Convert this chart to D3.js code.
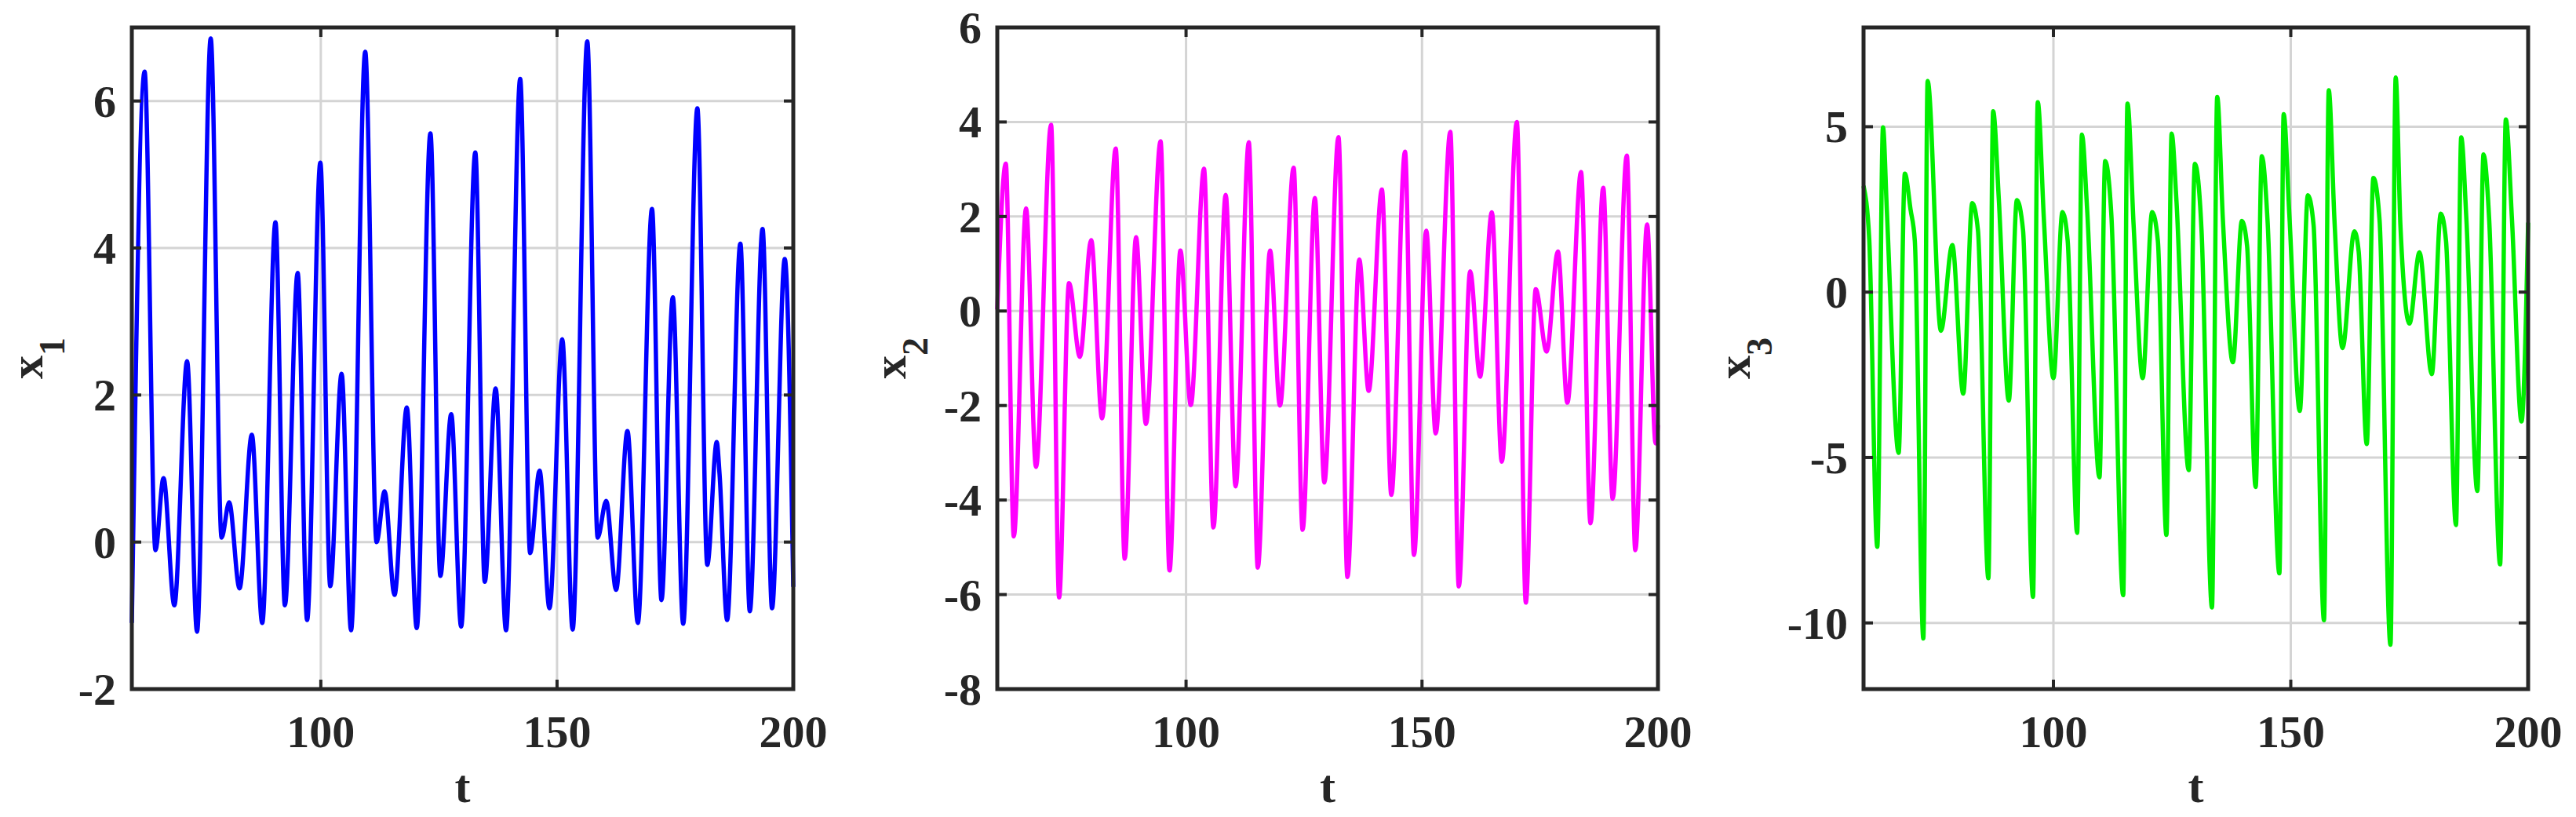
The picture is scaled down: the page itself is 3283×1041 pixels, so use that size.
<!DOCTYPE html>
<html>
  <head>
    <title>x1 x2 x3 time series</title>
    <script src="https://d3js.org/d3.v7.min.js"></script>
    <style>
      body { margin: 0; background: #fff; }
      text { font-family: "Times New Roman", "Liberation Serif", Times, serif; font-weight: 700; fill: #262626; }
    </style>
  </head>
  <body>
    <svg width="3283" height="1041"></svg>
    <script>
      // extrema: [t, value]
      const x1Data = [
        [60,-1.1],[62.7,6.4],[65.0,-0.11],[66.7,0.87],[69.0,-0.86],[71.7,2.46],[73.8,-1.22],
        [76.7,6.85],[79.0,0.06],[80.6,0.54],[82.8,-0.63],[85.4,1.46],[87.6,-1.1],[90.4,4.35],
        [92.4,-0.86],[95.1,3.66],[97.1,-1.06],[99.9,5.16],[102.0,-0.6],[104.4,2.29],[106.4,-1.2],
        [109.4,6.67],[111.8,0],[113.5,0.69],[115.6,-0.72],[118.2,1.83],[120.3,-1.17],[123.2,5.56],
        [125.3,-0.46],[127.6,1.74],[129.7,-1.15],[132.7,5.3],[134.7,-0.54],[137.0,2.09],[139.2,-1.2],
        [142.2,6.3],[144.3,-0.15],[146.3,0.97],[148.4,-0.9],[151.1,2.76],[153.3,-1.19],[156.4,6.81],
        [158.6,0.06],[160.4,0.56],[162.5,-0.65],[164.9,1.51],[167.1,-1.1],[170.1,4.53],[172.1,-0.79],
        [174.5,3.33],[176.7,-1.11],[179.7,5.9],[181.8,-0.31],[183.8,1.36],[184.4,0.92],[186.0,-1.06],
        [188.8,4.06],[190.8,-0.94],[193.5,4.26],[195.5,-0.9],[198.2,3.85],[200,-0.61]
      ];
      const x2Data = [
        [60,0.03],[61.8,3.12],[63.5,-4.77],[66.1,2.17],[68.2,-3.3],[71.4,3.94],[73.1,-6.06],
        [75.2,0.59],[77.5,-0.97],[79.9,1.5],[82.2,-2.27],[85.1,3.44],[87.0,-5.24],[89.4,1.56],
        [91.5,-2.39],[94.6,3.59],[96.5,-5.49],[98.8,1.28],[101.0,-1.99],[103.8,3.01],[105.8,-4.58],
        [108.4,2.46],[110.5,-3.71],[113.3,3.57],[115.2,-5.43],[117.8,1.28],[119.9,-2.0],[122.8,3.03],
        [124.7,-4.63],[127.3,2.39],[129.3,-3.63],[132.3,3.68],[134.2,-5.63],[136.7,1.09],[138.7,-1.69],
        [141.5,2.57],[143.5,-3.89],[146.4,3.37],[148.3,-5.16],[150.9,1.7],[152.9,-2.59],[156.0,3.79],
        [157.8,-5.83],[160.2,0.84],[162.3,-1.39],[164.8,2.09],[166.9,-3.19],[170.1,4.0],[172.0,-6.17],
        [174.1,0.46],[176.4,-0.86],[178.8,1.26],[180.8,-1.94],[183.7,2.94],[185.7,-4.49],[188.4,2.61],
        [190.4,-3.97],[193.4,3.29],[195.2,-5.06],[197.7,1.83],[199.5,-2.8],[200,-2.41]
      ];
      const x3Data = [
        [60,3.21],[61.2,1.6],[62.9,-7.7],[64.1,4.98],[64.9,2.5],[67.4,-4.86],[68.7,3.58],[69.9,2.5],
        [70.8,1.55],[72.6,-10.47],[73.5,6.38],[76.3,-1.17],[78.7,1.42],[81.0,-3.07],[82.9,2.69],
        [84.1,1.87],[86.3,-8.65],[87.3,5.47],[88.5,2.8],[90.6,-3.28],[92.3,2.78],[93.6,1.87],
        [95.7,-9.21],[96.7,5.74],[98.0,2.18],[100.0,-2.6],[101.9,2.42],[103.0,1.55],[105.0,-7.28],
        [106.0,4.76],[107.1,2.5],[109.7,-5.6],[110.9,3.96],[112.2,2.34],[114.7,-9.16],[115.6,5.7],
        [116.9,2.0],[118.8,-2.6],[120.8,2.42],[122.0,1.55],[123.8,-7.34],[124.9,4.79],[125.9,2.8],
        [128.5,-5.38],[129.8,3.88],[131.2,1.87],[133.4,-9.53],[134.5,5.9],[135.7,2.18],[137.8,-2.12],
        [139.7,2.15],[140.8,1.39],[142.6,-5.89],[143.9,4.11],[145.1,2.18],[147.6,-8.5],[148.5,5.38],
        [149.7,2.34],[151.9,-3.59],[153.6,2.93],[154.8,2.03],[157.0,-9.92],[158.0,6.1],[159.2,2.18],
        [160.9,-1.69],[163.4,1.84],[164.3,1.23],[166.0,-4.59],[167.4,3.45],[168.7,2.18],[171.0,-10.66],
        [172.1,6.49],[173.1,2.0],[175.0,-0.95],[177.1,1.2],[179.7,-2.48],[181.6,2.37],[182.7,1.55],
        [184.8,-7.04],[185.9,4.68],[187.0,2.18],[189.3,-6.01],[190.6,4.16],[191.8,2.18],[194.1,-8.23],
        [195.3,5.22],[196.6,2.18],[198.6,-3.91],[200,2.1]
      ];
      const xTicks = [100, 150, 200];
      const x1Ticks = [-2, 0, 2, 4, 6];
      const x2Ticks = [-8, -6, -4, -2, 0, 2, 4, 6];
      const x3Ticks = [-10, -5, 0, 5];

      function panel(svg, props) {
        const { data, left, right, top, bottom, yDomain, yTicks, color, label, labelX } = props;
        const x = d3.scaleLinear().domain([60, 200]).range([left, right]);
        const y = d3.scaleLinear().domain(yDomain).range([bottom, top]);
        const g = svg.append("g");
        const tickLen = 12;

        // grid
        g.selectAll(".gx").data(xTicks).join("line")
          .attr("x1", d => x(d)).attr("x2", d => x(d))
          .attr("y1", top).attr("y2", bottom)
          .attr("stroke", "#d4d4d4").attr("stroke-width", 3);
        g.selectAll(".gy").data(yTicks).join("line")
          .attr("x1", left).attr("x2", right)
          .attr("y1", d => y(d)).attr("y2", d => y(d))
          .attr("stroke", "#d4d4d4").attr("stroke-width", 3);

        // line
        g.append("path").datum(data)
          .attr("fill", "none").attr("stroke", color).attr("stroke-width", 5.5)
          .attr("stroke-linejoin", "round")
          .attr("d", d3.line().x(d => x(d[0])).y(d => y(d[1])).curve(d3.curveMonotoneX));

        // ticks inside on all sides
        const tk = g.append("g").attr("stroke", "#262626").attr("stroke-width", 4);
        xTicks.forEach(v => {
          tk.append("line").attr("x1", x(v)).attr("x2", x(v)).attr("y1", bottom).attr("y2", bottom - tickLen);
          tk.append("line").attr("x1", x(v)).attr("x2", x(v)).attr("y1", top).attr("y2", top + tickLen);
        });
        yTicks.forEach(v => {
          tk.append("line").attr("x1", left).attr("x2", left + tickLen).attr("y1", y(v)).attr("y2", y(v));
          tk.append("line").attr("x1", right).attr("x2", right - tickLen).attr("y1", y(v)).attr("y2", y(v));
        });

        // frame
        g.append("rect").attr("x", left).attr("y", top)
          .attr("width", right - left).attr("height", bottom - top)
          .attr("fill", "none").attr("stroke", "#262626").attr("stroke-width", 5);

        // tick labels
        g.selectAll(".tx").data(xTicks).join("text")
          .attr("x", d => x(d)).attr("y", bottom + 74)
          .attr("text-anchor", "middle").attr("font-size", 58).text(d => d);
        g.selectAll(".ty").data(yTicks).join("text")
          .attr("x", left - 20).attr("y", d => y(d) + 20)
          .attr("text-anchor", "end").attr("font-size", 58).text(d => d);

        // axis labels
        g.append("text").attr("x", (left + right) / 2).attr("y", 1022)
          .attr("text-anchor", "middle").attr("font-size", 60).text("t");
        const yl = g.append("text")
          .attr("transform", `translate(${labelX},${(top + bottom) / 2}) rotate(-90)`)
          .attr("text-anchor", "middle").attr("font-size", 60);
        yl.append("tspan").text("x");
        yl.append("tspan").attr("dy", 28).attr("font-size", 46).text(label);
      }

      const svg = d3.select("svg");
      const plotTop = 35, plotBottom = 878;
      panel(svg, { data: x1Data, left: 168, right: 1011, top: plotTop, bottom: plotBottom, yDomain: [-2, 7],
        yTicks: x1Ticks, color: "#0000ff", label: "1", labelX: 54 });
      panel(svg, { data: x2Data, left: 1271, right: 2113, top: plotTop, bottom: plotBottom, yDomain: [-8, 6],
        yTicks: x2Ticks, color: "#ff00ff", label: "2", labelX: 1154 });
      panel(svg, { data: x3Data, left: 2375, right: 3222, top: plotTop, bottom: plotBottom, yDomain: [-12, 8],
        yTicks: x3Ticks, color: "#00ee00", label: "3", labelX: 2230 });
    </script>
  </body>
</html>
